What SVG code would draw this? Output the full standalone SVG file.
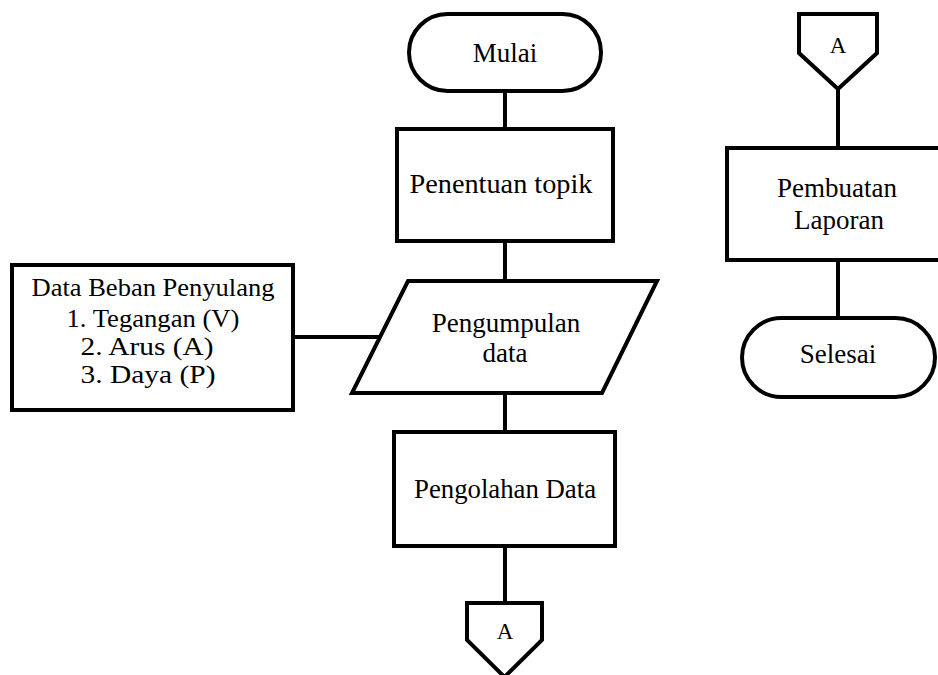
<svg xmlns="http://www.w3.org/2000/svg" width="938" height="675" viewBox="0 0 938 675">
<style>
.s{fill:#fff;stroke:#000;stroke-width:4;stroke-linejoin:miter}
.c line{stroke:#000;stroke-width:4}
text{font-family:"Liberation Serif","Times New Roman",serif;font-size:27px;fill:#000;text-anchor:middle}
.sm{font-size:25px}
.a{font-size:23px}
</style>
<rect width="938" height="675" fill="#fff"/>
<g class="c" id="connectors">
<line x1="505" y1="91" x2="505" y2="129"/>
<line x1="505" y1="241" x2="505" y2="281"/>
<line x1="293" y1="337" x2="380" y2="337"/>
<line x1="505" y1="393" x2="505" y2="432"/>
<line x1="505" y1="546" x2="505" y2="603"/>
<line x1="838" y1="89" x2="838" y2="148"/>
<line x1="838" y1="260" x2="838" y2="318"/>
</g>
<g id="mulai">
<rect class="s" x="409" y="14" width="192" height="77" rx="38.5"/>
<text x="505" y="62">Mulai</text>
</g>
<g id="penentuan">
<rect class="s" x="397" y="129" width="216" height="112"/>
<text x="501" y="193" textLength="183" lengthAdjust="spacingAndGlyphs">Penentuan topik</text>
</g>
<g id="pengumpulan">
<polygon class="s" points="408,281 657,281 602,393 352,393"/>
<text x="506" y="332">Pengumpulan</text>
<text x="505" y="362">data</text>
</g>
<g id="databeban">
<rect class="s" x="12" y="265" width="281" height="145"/>
<text class="sm" x="153" y="296" textLength="243" lengthAdjust="spacingAndGlyphs">Data Beban Penyulang</text>
<text class="sm" x="153" y="327" textLength="173" lengthAdjust="spacingAndGlyphs">1. Tegangan (V)</text>
<text class="sm" x="147" y="355" textLength="133" lengthAdjust="spacingAndGlyphs">2. Arus (A)</text>
<text class="sm" x="148" y="383" textLength="135" lengthAdjust="spacingAndGlyphs">3. Daya (P)</text>
</g>
<g id="pengolahan">
<rect class="s" x="394" y="432" width="221" height="114"/>
<text x="505" y="498" textLength="182" lengthAdjust="spacingAndGlyphs">Pengolahan Data</text>
</g>
<g id="connA1">
<polygon class="s" points="467,603 542,603 542,640 504.5,677 467,640"/>
<text class="a" x="505" y="639">A</text>
</g>
<g id="connA2">
<polygon class="s" points="799,14 877,14 877,53 838,89 799,53"/>
<text class="a" x="838" y="53">A</text>
</g>
<g id="pembuatan">
<rect class="s" x="727" y="148" width="222" height="112"/>
<text x="837" y="197">Pembuatan</text>
<text x="839" y="229">Laporan</text>
</g>
<g id="selesai">
<rect class="s" x="742" y="318" width="193" height="79" rx="39.5"/>
<text x="838" y="363">Selesai</text>
</g>
</svg>
